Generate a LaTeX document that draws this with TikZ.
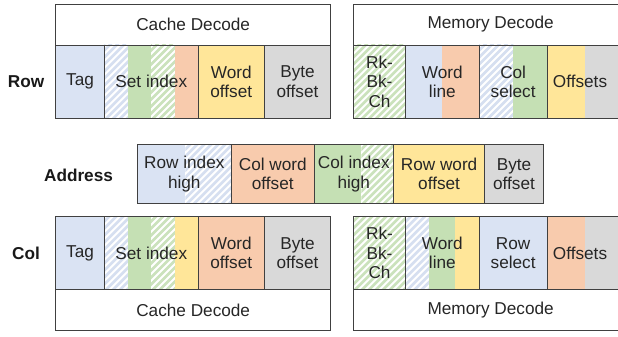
\documentclass[tikz,border=0pt]{standalone}
\usepackage{fontspec}
\setmainfont{Liberation Sans}
\definecolor{cblue}{HTML}{DAE3F3}
\definecolor{cgreen}{HTML}{C5E0B4}
\definecolor{corange}{HTML}{F8CBAD}
\definecolor{cyellow}{HTML}{FFE699}
\definecolor{cgray}{HTML}{D9D9D9}
\definecolor{hblue}{HTML}{D6DFF0}
\definecolor{hgreen}{HTML}{CBE2BC}
\newcommand\fsz{\fontsize{17.2}{19.5}\selectfont}
\newcommand\solidbox[5]{\fill[#5] (#1,#2) rectangle (#3,#4);}
\newcommand\hatchbox[5]{%
  \begin{scope}
    \clip (#1,#2) rectangle (#3,#4);
    \fill[white] (#1,#2) rectangle (#3,#4);
    \foreach \k in {0,7,...,154} \draw[#5, line width=2.6pt] ({#1-84+\k},{#4+2}) -- ++(90,-90);
  \end{scope}}
\newcommand\fld[6]{\node[field, minimum width={#4-#2}, minimum height={#5-#3}] (#1) at ({(#2+#4)/2},{(#3+#5)/2}) {#6};}
\begin{document}
\begin{tikzpicture}[x=1pt,y=-1pt,
  field/.style={draw=black!75, line width=0.9pt, inner sep=0pt, align=center, text=black!85, font=\fsz},
  lbl/.style={inner sep=0pt, align=center, text=black!85, font=\fsz},
  rowlbl/.style={inner sep=0pt, text=black!90, font=\fsz\bfseries}]
\useasboundingbox (0,0) rectangle (618,337);

% ---------- top cache ----------
\solidbox{55.7}{45}{104.3}{118.5}{cblue}
\hatchbox{104.3}{45}{128.3}{118.5}{hblue}
\solidbox{128.3}{45}{151}{118.5}{cgreen}
\hatchbox{151}{45}{175}{118.5}{hgreen}
\solidbox{175}{45}{198.3}{118.5}{corange}
\solidbox{198.3}{45}{264.3}{118.5}{cyellow}
\solidbox{264.3}{45}{330.7}{118.5}{cgray}
\fld{tch}{55.7}{4}{330.7}{45}{Cache Decode}
\fld{ttag}{55.7}{45}{104.3}{118.5}{Tag}
\fld{tset}{104.3}{45}{198.3}{118.5}{Set index}
\fld{tword}{198.3}{45}{264.3}{118.5}{Word\\offset}
\fld{tbyte}{264.3}{45}{330.7}{118.5}{Byte\\offset}

% ---------- top memory ----------
\hatchbox{353.3}{45}{405.7}{118.5}{hgreen}
\solidbox{405.7}{45}{441.7}{118.5}{cblue}
\solidbox{441.7}{45}{479}{118.5}{corange}
\hatchbox{479}{45}{513.3}{118.5}{hblue}
\solidbox{513.3}{45}{547.3}{118.5}{cgreen}
\solidbox{547.3}{45}{585}{118.5}{cyellow}
\solidbox{585}{45}{628}{118.5}{cgray}
\fld{tmh}{353.3}{4}{628}{45}{Memory Decode}
\fld{trbc}{353.3}{45}{405.7}{118.5}{Rk-\\Bk-\\Ch}
\fld{twl}{405.7}{45}{479}{118.5}{Word\\line}
\fld{tcs}{479}{45}{547.3}{118.5}{Col\\select}
\fld{toff}{547.3}{45}{628}{118.5}{}
\node[lbl] (toffl) at (580,81.7) {Offsets};

% ---------- address ----------
\solidbox{137.2}{144.7}{185.3}{203.4}{cblue}
\hatchbox{185.3}{144.7}{231.4}{203.4}{hblue}
\solidbox{231.4}{144.7}{314.2}{203.4}{corange}
\solidbox{314.2}{144.7}{361.4}{203.4}{cgreen}
\hatchbox{361.4}{144.7}{393.4}{203.4}{hgreen}
\solidbox{393.4}{144.7}{484.8}{203.4}{cyellow}
\solidbox{484.8}{144.7}{543.2}{203.4}{cgray}
\fld{arih}{137.2}{144.7}{231.4}{203.4}{Row index\\high}
\fld{acwo}{231.4}{144.7}{314.2}{203.4}{Col word\\offset}
\fld{acih}{314.2}{144.7}{393.4}{203.4}{Col index\\high}
\fld{arwo}{393.4}{144.7}{484.8}{203.4}{Row word\\offset}
\fld{abo}{484.8}{144.7}{543.2}{203.4}{Byte\\offset}

% ---------- bottom cache ----------
\solidbox{55.7}{216.5}{104.3}{289.5}{cblue}
\hatchbox{104.3}{216.5}{128.3}{289.5}{hblue}
\solidbox{128.3}{216.5}{151}{289.5}{cgreen}
\hatchbox{151}{216.5}{175}{289.5}{hgreen}
\solidbox{175}{216.5}{198.3}{289.5}{cyellow}
\solidbox{198.3}{216.5}{264.3}{289.5}{corange}
\solidbox{264.3}{216.5}{330.7}{289.5}{cgray}
\fld{bch}{55.7}{289.5}{330.7}{330.5}{Cache Decode}
\fld{btag}{55.7}{216.5}{104.3}{289.5}{Tag}
\fld{bset}{104.3}{216.5}{198.3}{289.5}{Set index}
\fld{bword}{198.3}{216.5}{264.3}{289.5}{Word\\offset}
\fld{bbyte}{264.3}{216.5}{330.7}{289.5}{Byte\\offset}

% ---------- bottom memory ----------
\hatchbox{353.3}{216.5}{405.7}{289.5}{hgreen}
\hatchbox{405.7}{216.5}{429.3}{289.5}{hblue}
\solidbox{429.3}{216.5}{455}{289.5}{cgreen}
\solidbox{455}{216.5}{479}{289.5}{cyellow}
\solidbox{479}{216.5}{547.3}{289.5}{cblue}
\solidbox{547.3}{216.5}{585}{289.5}{corange}
\solidbox{585}{216.5}{628}{289.5}{cgray}
\fld{bmh}{353.3}{289.5}{628}{330.5}{Memory Decode}
\fld{brbc}{353.3}{216.5}{405.7}{289.5}{Rk-\\Bk-\\Ch}
\fld{bwl}{405.7}{216.5}{479}{289.5}{Word\\line}
\fld{brs}{479}{216.5}{547.3}{289.5}{Row\\select}
\fld{boff}{547.3}{216.5}{628}{289.5}{}
\node[lbl] (boffl) at (580,253) {Offsets};

% ---------- row labels ----------
\node[rowlbl] (lrow) at (26,82) {Row};
\node[rowlbl] (laddr) at (78.5,175) {Address};
\node[rowlbl] (lcol) at (26,253) {Col};
\end{tikzpicture}
\end{document}
